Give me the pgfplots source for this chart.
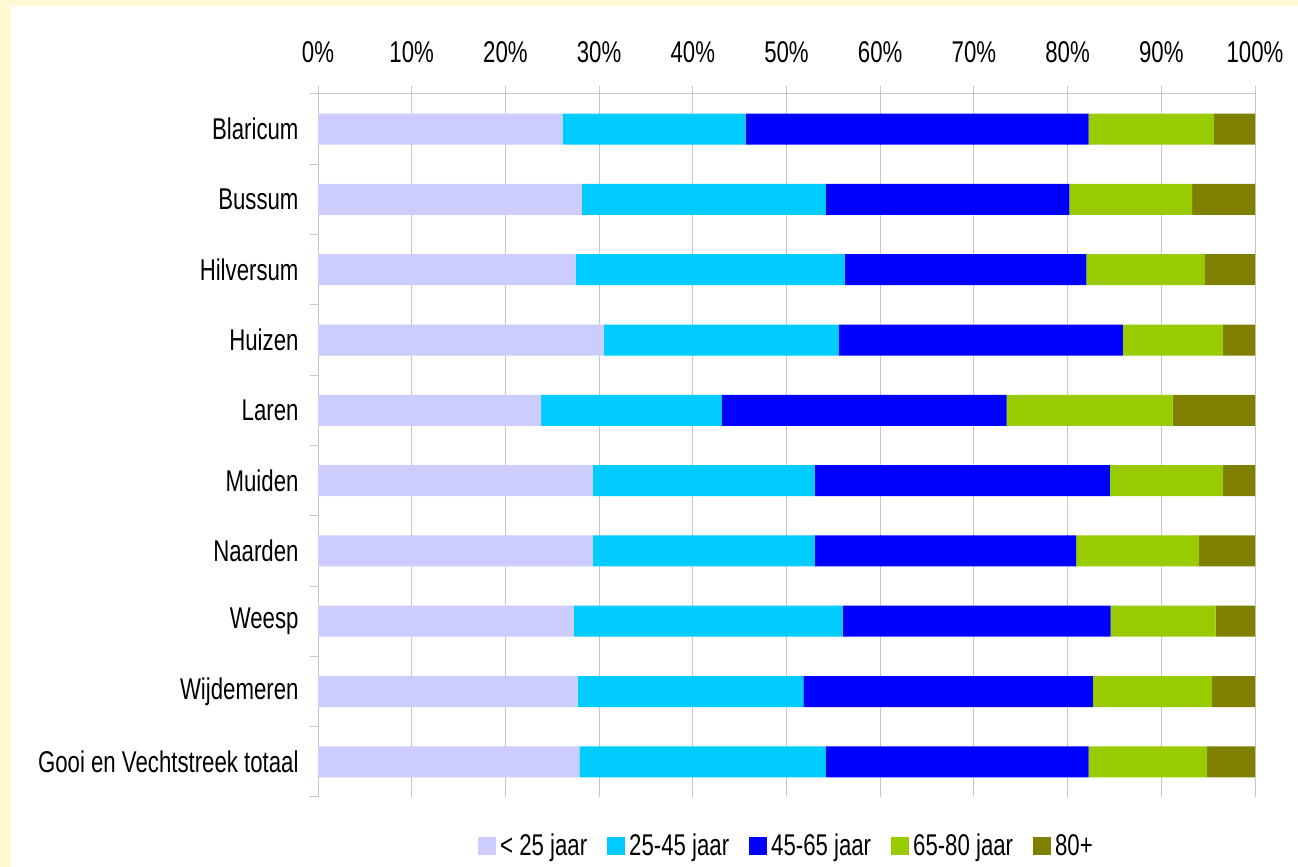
\documentclass[border=0pt]{standalone}
\usepackage{fontspec}
\setmainfont{Liberation Sans}[FakeStretch=0.74]
\usepackage{pgfplots}
\pgfplotsset{compat=1.18}
\definecolor{bgy}{HTML}{FFF9D4}
\definecolor{gridg}{HTML}{C6C6C6}
\definecolor{ca}{HTML}{CCCCFF}
\definecolor{cb}{HTML}{00CCFF}
\definecolor{cc}{HTML}{0000FF}
\definecolor{cd}{HTML}{99CC00}
\definecolor{ce}{HTML}{808000}
\begin{document}
\begin{tikzpicture}
\fill[bgy] (0,0) rectangle (1298pt,867pt);
\fill[white] (11pt,0) rectangle (1298pt,861pt);
\begin{axis}[
  at={(318pt,70pt)}, anchor=south west,
  scale only axis, width=937pt, height=703pt,
  xbar stacked, bar width=31pt,
  xmin=0, xmax=100, ymin=-0.5, ymax=9.5,
  axis x line*=top, axis y line*=left,
  axis line style={draw=gridg, line width=1pt},
  /pgf/number format/assume math mode=true,
  font=\fontsize{30}{36}\selectfont,
  xtick={0,10,...,100},
  xticklabels={0\%,10\%,20\%,30\%,40\%,50\%,60\%,70\%,80\%,90\%,100\%},
  xticklabel style={yshift=20pt},
  xmajorgrids, major grid style={draw=gridg, line width=1pt},
  tick align=outside, major tick length=8pt,
  tick style={draw=gridg, line width=1pt},
  ytick={-0.5,0.5,...,9.5}, yticklabels={},
  extra y ticks={0,1,2,3,4,5,6,7,8,9},
  extra y tick labels={Gooi en Vechtstreek totaal,Wijdemeren,Weesp,Naarden,Muiden,Laren,Huizen,Hilversum,Bussum,Blaricum},
  extra y tick style={tick style={draw=none}, yticklabel style={xshift=-8pt}},
  legend style={at={(0.5,-0.069)}, anchor=center, draw=none, fill=none,
    legend columns=5, font=\fontsize{30}{36}\selectfont,
    /tikz/every odd column/.append style={column sep=2pt},
    /tikz/every even column/.append style={column sep=18pt}},
  legend image code/.code={\fill[#1] (0pt,-9pt) rectangle (18pt,9pt);},
]
\addplot[fill=ca, draw=none] coordinates {(27.9,0) (27.7,1) (27.3,2) (29.3,3) (29.3,4) (23.8,5) (30.5,6) (27.5,7) (28.15,8) (26.1,9)};
\addplot[fill=cb, draw=none] coordinates {(26.3,0) (24.1,1) (28.7,2) (23.7,3) (23.7,4) (19.3,5) (25.1,6) (28.7,7) (26.05,8) (19.55,9)};
\addplot[fill=cc, draw=none] coordinates {(28.05,0) (30.9,1) (28.6,2) (27.9,3) (31.5,4) (30.4,5) (30.3,6) (25.8,7) (26.0,8) (36.6,9)};
\addplot[fill=cd, draw=none] coordinates {(12.65,0) (12.7,1) (11.2,2) (13.1,3) (12.1,4) (17.7,5) (10.7,6) (12.6,7) (13.1,8) (13.35,9)};
\addplot[fill=ce, draw=none] coordinates {(5.1,0) (4.6,1) (4.2,2) (6.0,3) (3.4,4) (8.8,5) (3.4,6) (5.4,7) (6.7,8) (4.4,9)};
\legend{< 25 jaar,25-45 jaar,45-65 jaar,65-80 jaar,80+}
\end{axis}
\end{tikzpicture}
\end{document}
